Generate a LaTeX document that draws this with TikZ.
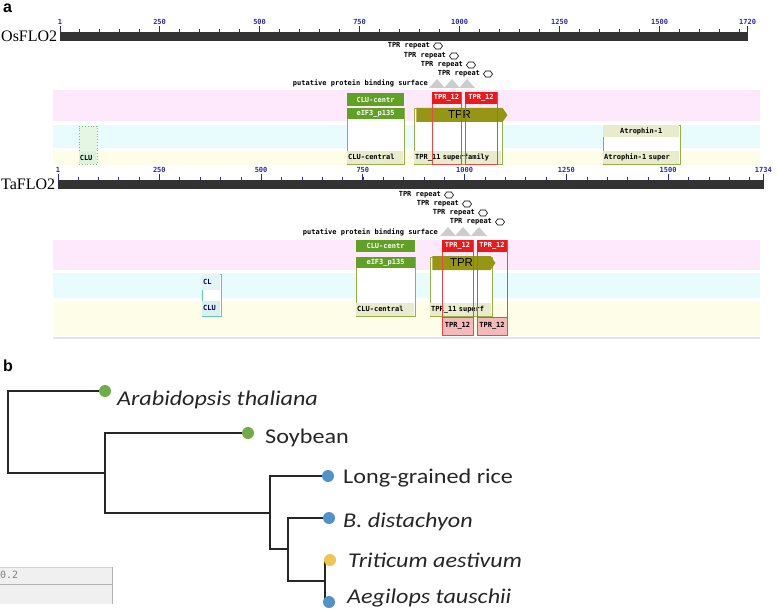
\documentclass[tikz,border=0pt]{standalone}
\usepackage{fontspec}
\setmainfont{Liberation Serif}
\newfontfamily\treefont[FakeStretch=1.15]{Carlito}
\newfontfamily\domfont{DejaVu Sans Mono}
\newfontfamily\panelfont{Liberation Sans}
\usetikzlibrary{shapes.symbols, shapes.geometric, positioning, backgrounds}

\definecolor{rulerblue}{RGB}{40,40,170}
\definecolor{bandpink}{RGB}{253,232,252}
\definecolor{bandcyan}{RGB}{232,252,253}
\definecolor{bandyellow}{RGB}{253,253,232}
\definecolor{domgreen}{RGB}{96,160,36}
\definecolor{domolive}{RGB}{150,150,20}
\definecolor{edgeolive}{RGB}{150,175,70}
\definecolor{labbg}{RGB}{232,236,205}
\definecolor{domred}{RGB}{235,25,25}
\definecolor{palered}{RGB}{245,185,185}
\definecolor{clugreen}{RGB}{110,205,110}
\definecolor{cluteal}{RGB}{100,200,180}
\definecolor{leafgreen}{RGB}{112,173,71}
\definecolor{leafblue}{RGB}{81,146,201}
\definecolor{leafyellow}{RGB}{240,196,80}

\begin{document}
\begin{tikzpicture}[x=1pt, y=-1pt,
  panellab/.style={font=\panelfont\bfseries\fontsize{16}{16}\selectfont, anchor=north west, inner sep=0pt},
  protlab/.style={font=\fontsize{16}{16}\selectfont, anchor=west, inner sep=0pt},
  ticklab/.style={font=\domfont\bfseries\fontsize{7}{7}\selectfont, text=rulerblue, inner sep=0pt},
  domtxt/.style={font=\domfont\bfseries\fontsize{7}{7}\selectfont},
  greenhead/.style={fill=domgreen, text=white, inner sep=0pt, domtxt},
  redhead/.style={fill=domred, text=white, inner sep=0pt, domtxt},
  outlinebox/.style={draw=edgeolive, fill=white, line width=0.8pt, inner sep=0pt},
  redbox/.style={draw=domred!80, line width=0.8pt, inner sep=0pt},
  clubox/.style={draw=clugreen, dotted, fill=clugreen!18, line width=0.8pt, inner sep=0pt},
  footlab/.style={fill=labbg, anchor=south west, inner sep=1pt, align=left, domtxt, minimum height=13pt},
  headlab/.style={fill=labbg, anchor=north west, inner sep=1pt, align=center, domtxt, minimum height=12pt},
  tprarrow/.style={signal, signal to=east, signal pointer angle=110, fill=domolive, inner sep=0pt, font=\panelfont\fontsize{11.5}{11.5}\selectfont},
  hexmark/.style={signal, signal to=east and west, signal pointer angle=110, draw=black, fill=white, line width=0.6pt, minimum width=9pt, minimum height=6pt, inner sep=0pt},
  replab/.style={domtxt, inner sep=0pt},
  leafdot/.style={circle, minimum size=12pt, inner sep=0pt},
  leaflab/.style={font=\treefont\fontsize{21}{21}\selectfont, anchor=base west, inner sep=0pt, text=black!85},
  branch/.style={line width=1.2pt, black!85}]

  \useasboundingbox (0,0) rectangle (778,612);

  % Panel a
  \node[panellab] (panela) at (3,4) {a};

  % OsFLO2 ruler
  \node[protlab] (osname) at (1,36.5) {OsFLO2};
  \fill[black!80] (60,32) rectangle (748,41);
  \foreach \k in {1,...,34} {
    \pgfmathsetmacro\tx{60+0.4*(50*\k-1)}
    \draw[rulerblue] (\tx,29) -- (\tx,32);
  }
  \foreach \v in {1,250,500,750,1000,1250,1500,1720} {
    \pgfmathsetmacro\tx{60+0.4*(\v-1)}
    \draw[rulerblue, line width=0.8pt] (\tx,26.5) -- (\tx,32);
    \node[ticklab] (osnum\v) at (\tx,22) {\v};
  }

  % OsFLO2 tracks
  \fill[bandpink] (53,90) rectangle (760,121);
  \fill[bandcyan] (53,125) rectangle (760,148);
  \fill[bandyellow] (53,151) rectangle (760,165);

  % OsFLO2 repeats
  \node[hexmark] (osrep1) at (438,46) {};
  \node[hexmark] (osrep2) at (454,56) {};
  \node[hexmark] (osrep3) at (471,65) {};
  \node[hexmark] (osrep4) at (488,74) {};
  \foreach \r in {1,...,4}
    \node[replab, left=3pt of osrep\r] (osreplab\r) {TPR repeat};
  \foreach \p in {437,452,467}
    \fill[gray!40] (\p-8,88) -- (\p,79) -- (\p+8,88) -- cycle;
  \node[replab, anchor=east] (ossurf) at (428,83) {putative protein binding surface};

  % OsFLO2 domains
  \node[clubox, minimum width=18pt, minimum height=38pt] (osclu) at (88,145) {};
  \node[footlab, fill=clugreen!25, text width=15pt] (osclulab) at (osclu.south west) {CLU};

  \node[outlinebox, minimum width=57pt, minimum height=56pt] (oscluc) at (375.5,136) {};
  \node[footlab, text width=54pt] (osclucl) at ([xshift=0.4pt,yshift=0.4pt]oscluc.south west) {CLU-central};
  \node[greenhead, minimum width=57pt, minimum height=13pt] (osclucentr) at (375.5,99.5) {CLU-centr};
  \node[greenhead, minimum width=57pt, minimum height=11pt] (oseif) at (375.5,113.5) {eIF3\_p135};

  \node[outlinebox, minimum width=88pt, minimum height=56pt] (ostprbox) at (458,136) {};
  \node[footlab, text width=85pt] (ostprlab) at ([xshift=0.4pt,yshift=0.4pt]ostprbox.south west) {TPR\_11 superfamily};
  \node[tprarrow, minimum width=91pt, minimum height=14pt] (ostpr) at (459.5,115) {TPR};
  \node[redbox, minimum width=29pt, minimum height=72pt] (ostprA) at (446.5,128) {};
  \node[redbox, minimum width=32pt, minimum height=72pt] (ostprB) at (481,128) {};
  \node[redhead, minimum width=29pt, minimum height=12pt] (ostprAhead) at (446.5,98) {TPR\_12};
  \node[redhead, minimum width=32pt, minimum height=12pt] (ostprBhead) at (481,98) {TPR\_12};

  \node[outlinebox, minimum width=77pt, minimum height=39pt] (osatro) at (641.5,144.5) {};
  \node[headlab, text width=74pt] (osatrohead) at ([xshift=0.4pt,yshift=-0.4pt]osatro.north west) {Atrophin-1};
  \node[footlab, text width=74pt] (osatrolab) at ([xshift=0.4pt,yshift=0.4pt]osatro.south west) {Atrophin-1 super};

  % TaFLO2 ruler
  \node[protlab] (taname) at (1,184.5) {TaFLO2};
  \fill[black!80] (58,180) rectangle (763.5,189);
  \foreach \k in {1,...,34} {
    \pgfmathsetmacro\tx{58+0.407*(50*\k-1)}
    \draw[rulerblue] (\tx,177) -- (\tx,180);
  }
  \foreach \v in {1,250,500,750,1000,1250,1500,1734} {
    \pgfmathsetmacro\tx{58+0.407*(\v-1)}
    \draw[rulerblue, line width=0.8pt] (\tx,174.5) -- (\tx,180);
    \node[ticklab] (tanum\v) at (\tx,170) {\v};
  }

  % TaFLO2 tracks
  \fill[bandpink] (53,240) rectangle (760,270);
  \fill[bandcyan] (53,273) rectangle (760,298);
  \fill[bandyellow] (53,302) rectangle (760,336);
  \draw[gray!20, line width=1.5pt] (53,338) -- (760,338);

  % TaFLO2 repeats
  \node[hexmark] (tarep1) at (449,195) {};
  \node[hexmark] (tarep2) at (467,204) {};
  \node[hexmark] (tarep3) at (483,213) {};
  \node[hexmark] (tarep4) at (500,222) {};
  \foreach \r in {1,...,4}
    \node[replab, left=3pt of tarep\r] (tareplab\r) {TPR repeat};
  \foreach \p in {448,463,479}
    \fill[gray!40] (\p-8,236) -- (\p,227) -- (\p+8,236) -- cycle;
  \node[replab, anchor=east] (tasurf) at (438,232) {putative protein binding surface};

  % TaFLO2 domains
  \node[clubox, draw=cluteal, solid, fill=white, minimum width=19pt, minimum height=42pt] (taclu) at (211.5,295) {};
  \node[headlab, fill=cluteal!18, text width=16pt, align=left, minimum height=16pt, text=blue!40!black] (tacluhead) at ([xshift=0.4pt,yshift=-0.4pt]taclu.north west) {CL};
  \node[footlab, fill=cluteal!25, text width=16pt, minimum height=15pt, text=blue!40!black] (taclulab) at ([xshift=0.4pt,yshift=0.4pt]taclu.south west) {CLU};

  \node[outlinebox, minimum width=59pt, minimum height=59pt] (tacluc) at (385.5,286.5) {};
  \node[footlab, text width=56pt] (taclucl) at ([xshift=0.4pt,yshift=0.4pt]tacluc.south west) {CLU-central};
  \node[greenhead, minimum width=59pt, minimum height=12pt] (taclucentr) at (385.5,246) {CLU-centr};
  \node[greenhead, minimum width=59pt, minimum height=11pt] (taeif) at (385.5,262.5) {eIF3\_p135};

  \node[outlinebox, minimum width=62pt, minimum height=59pt] (tatprbox) at (461,286.5) {};
  \node[footlab, text width=59pt] (tatprlab) at ([xshift=0.4pt,yshift=0.4pt]tatprbox.south west) {TPR\_11 superf};
  \node[tprarrow, minimum width=63pt, minimum height=14pt] (tatpr) at (461.5,263) {TPR};
  \node[redbox, minimum width=31pt, minimum height=95pt] (tatprA) at (457.5,287.5) {};
  \node[redbox, minimum width=30pt, minimum height=95pt] (tatprB) at (492,287.5) {};
  \node[redhead, minimum width=31pt, minimum height=12pt] (tatprAhead) at (457.5,246) {TPR\_12};
  \node[redhead, minimum width=30pt, minimum height=12pt] (tatprBhead) at (492,246) {TPR\_12};
  \node[redhead, fill=palered, text=black, minimum width=31pt, minimum height=18pt, draw=domred!80, line width=0.8pt] (tatprAfoot) at (457.5,326) {TPR\_12};
  \node[redhead, fill=palered, text=black, minimum width=30pt, minimum height=18pt, draw=domred!80, line width=0.8pt] (tatprBfoot) at (492,326) {TPR\_12};

  % Panel b
  \node[panellab] (panelb) at (3,360) {b};

  % Leaves
  \node[leafdot, fill=leafgreen] (ath) at (105,391) {};
  \node[leafdot, fill=leafgreen] (soy) at (248,433) {};
  \node[leafdot, fill=leafblue] (rice) at (328,476) {};
  \node[leafdot, fill=leafblue] (bdi) at (329,518) {};
  \node[leafdot, fill=leafyellow] (tae) at (330,560) {};
  \node[leafdot, fill=leafblue] (ata) at (329,602) {};

  % Inner nodes
  \coordinate (n0) at (8,432);
  \coordinate (n1) at (105,473);
  \coordinate (n2) at (270,513);
  \coordinate (n3) at (288,549);
  \coordinate (n4) at (325,581);

  % Branches
  \begin{scope}[on background layer]
  \draw[branch] (n0) |- (ath.center);
  \draw[branch] (n0) |- (n1);
  \draw[branch] (n1) |- (soy.center);
  \draw[branch] (n1) |- (n2);
  \draw[branch] (n2) |- (rice.center);
  \draw[branch] (n2) |- (n3);
  \draw[branch] (n3) |- (bdi.center);
  \draw[branch] (n3) |- (n4);
  \draw[branch] (n4) |- (tae.center);
  \draw[branch] (n4) |- (ata.center);
  \end{scope}

  % Leaf labels
  \node[leaflab] (athlab) at (117,405) {\itshape Arabidopsis thaliana};
  \node[leaflab] (soylab) at (265,443) {Soybean};
  \node[leaflab] (ricelab) at (343,483) {Long-grained rice};
  \node[leaflab] (bdilab) at (343,527) {\itshape B. distachyon};
  \node[leaflab] (taelab) at (348,567) {\itshape Triticum aestivum};
  \node[leaflab] (atalab) at (347,603) {\itshape Aegilops tauschii};

  % Scale bar
  \fill[gray!12] (0,567) rectangle (112,604);
  \draw[gray!35] (0,567) -- (112,567);
  \draw[gray!60] (0,584) -- (112,584);
  \draw[gray!60, line width=1pt] (112,567) -- (112,604);
  \node[font=\domfont\fontsize{10}{10}\selectfont, text=gray, anchor=west, inner sep=0pt] (scalelab) at (0,575) {0.2};
\end{tikzpicture}
\end{document}
